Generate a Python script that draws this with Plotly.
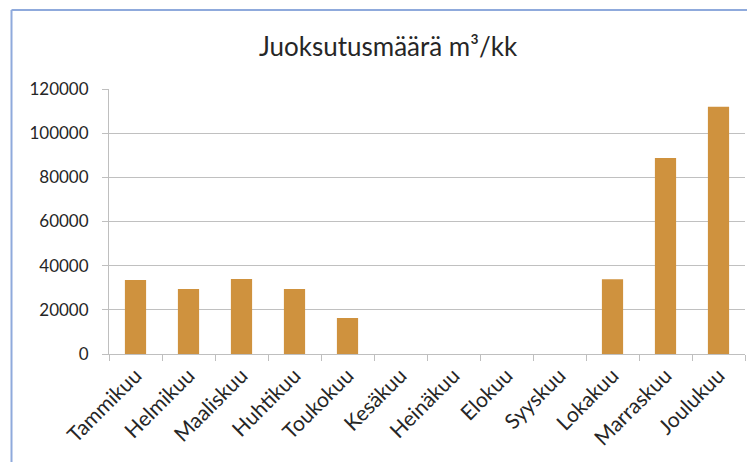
import plotly.graph_objects as go

months = ["Tammikuu", "Helmikuu", "Maaliskuu", "Huhtikuu", "Toukokuu", "Kesäkuu",
          "Heinäkuu", "Elokuu", "Syyskuu", "Lokakuu", "Marraskuu", "Joulukuu"]
values = [33500, 29400, 34000, 29400, 16300, 0, 0, 0, 0, 33800, 88700, 112000]
y_ticks = [0, 20000, 40000, 60000, 80000, 100000, 120000]

# page body has an 8px margin; work in reference pixel coordinates and shift
OFF = 8
W, H = 755 - OFF, 462 - OFF
L, R, T, B = 109 - OFF, 10, 89 - OFF, 108
pw, ph = W - L - R, H - T - B

def px(x):
    return (x - OFF - L) / pw

def py(y):
    return (H - B - (y - OFF)) / ph

fig = go.Figure(go.Bar(
    x=months, y=values,
    marker=dict(color="#CF923E", line=dict(width=0)),
))

frame_color = "#8FAADC"
fig.add_shape(type="line", xref="paper", yref="paper",
              x0=px(11.5), x1=px(11.5), y0=py(10), y1=py(480),
              line=dict(color=frame_color, width=2))
fig.add_shape(type="line", xref="paper", yref="paper",
              x0=px(11.5), x1=px(770), y0=py(10), y1=py(10),
              line=dict(color=frame_color, width=2))

fig.update_layout(
    width=W, height=H,
    margin=dict(l=L, r=R, t=T, b=B),
    paper_bgcolor="white", plot_bgcolor="white",
    bargap=0.6,
    showlegend=False,
    font=dict(family="Lato, Open Sans, sans-serif", color="#404040", size=17),
    title=dict(text="Juoksutusmäärä m³/kk", xref="container", yref="container",
               x=(388 - OFF) / W, xanchor="center", y=1 - (47 - OFF) / H, yanchor="middle",
               font=dict(size=26, color="#262626")),
    xaxis=dict(tickangle=-45, showgrid=False, showline=True, linecolor="#BFBFBF",
               linewidth=1, ticks="outside", tickson="boundaries", ticklen=6,
               tickcolor="#BFBFBF", tickfont=dict(size=21, color="#262626")),
    yaxis=dict(range=[0, 120000], tickvals=y_ticks, tickformat="d",
               showgrid=True, gridcolor="#C0C0C0", gridwidth=1,
               showline=True, linecolor="#BFBFBF", linewidth=1,
               ticks="outside", ticklen=6, tickcolor="#BFBFBF",
               zeroline=False, ticklabelstandoff=10,
               tickfont=dict(size=17, color="#262626")),
)

fig.write_html("out.html")
